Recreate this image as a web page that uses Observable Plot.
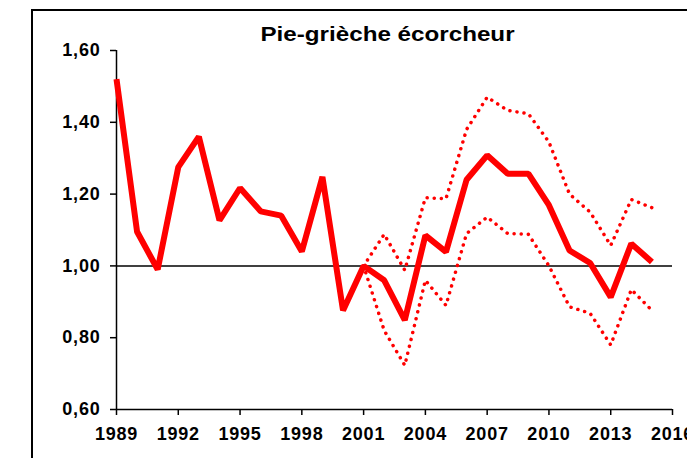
<!DOCTYPE html>
<html>
<head>
<meta charset="utf-8">
<script src="https://cdn.jsdelivr.net/npm/d3@7"></script>
<script src="https://cdn.jsdelivr.net/npm/@observablehq/plot@0.6"></script>
<style>
  html, body { margin: 0; padding: 0; background: #fff; width: 687px; height: 458px; overflow: hidden; }
  #wrap { position: relative; width: 687px; height: 458px; }
  #frame { position: absolute; left: 31px; top: 9px; width: 700px; height: 500px;
           border-left: 2px solid #000; border-top: 2px solid #000; box-sizing: border-box; }
  #title { position: absolute; left: 0; top: 24px; width: 775px; text-align: center;
           font-family: "Liberation Sans", Arial, sans-serif; font-weight: bold; font-size: 20.5px;
           line-height: 20px; color: #000; transform: scaleX(1.18); transform-origin: 387.5px 0; }
  #chart { position: absolute; left: 0; top: 0; }
</style>
</head>
<body>
<div id="wrap">
  <div id="frame"></div>
  <div id="chart"></div>
  <div id="title">Pie-grièche écorcheur</div>
</div>
<script>
// Main index, 1989–2015
const years = [1989,1990,1991,1992,1993,1994,1995,1996,1997,1998,1999,2000,2001,2002,2003,2004,2005,2006,2007,2008,2009,2010,2011,2012,2013,2014,2015];
const index = [1.52,1.095,0.99,1.275,1.36,1.127,1.217,1.152,1.14,1.04,1.248,0.876,1.0,0.96,0.849,1.085,1.039,1.24,1.308,1.257,1.257,1.169,1.043,1.008,0.913,1.062,1.011];

// Confidence interval, 2001–2015
const ciYears = [2001,2002,2003,2004,2005,2006,2007,2008,2009,2010,2011,2012,2013,2014,2015];
const upper = [1.0,1.088,0.988,1.19,1.187,1.38,1.47,1.433,1.424,1.345,1.20,1.15,1.057,1.185,1.162];
const lower = [1.0,0.82,0.723,0.96,0.89,1.09,1.136,1.09,1.088,1.0,0.886,0.868,0.78,0.934,0.876];

// Axis ticks
const xTicks = [1989,1992,1995,1998,2001,2004,2007,2010,2013,2016];
const yTicks = [0.6,0.8,1.0,1.2,1.4,1.6];

const main = years.map((y, i) => ({year: y, value: index[i]}));
const ci = ciYears.map((y, i) => ({year: y, upper: upper[i], lower: lower[i]}));

const chart = Plot.plot({
  width: 687,
  height: 458,
  marginLeft: 116,
  marginRight: 15,
  marginTop: 50,
  marginBottom: 49,
  style: {
    fontFamily: '"Liberation Sans", Arial, sans-serif',
    fontSize: "18px",
    fontWeight: "bold",
    letterSpacing: "0.8px",
    color: "#000",
    background: "transparent",
    overflow: "hidden"
  },
  x: {domain: [1989, 2016]},
  y: {domain: [0.6, 1.6]},
  marks: [
    Plot.ruleY([1.0], {x1: 1989, x2: 2016, stroke: "#000", strokeWidth: 1.5}),
    Plot.ruleX([1989], {y1: 0.6, y2: 1.6, stroke: "#000", strokeWidth: 1.5}),
    Plot.ruleY([0.6], {x1: 1989, x2: 2016, stroke: "#000", strokeWidth: 1.5}),
    Plot.axisX({ticks: xTicks, tickSize: 6, tickPadding: 12, strokeWidth: 1.5,
                tickFormat: d => String(d), label: null}),
    Plot.axisY({ticks: yTicks, tickSize: 6, tickPadding: 10, strokeWidth: 1.5,
                tickFormat: d => d.toFixed(2).replace(".", ","), label: null}),
    Plot.line(ci, {x: "year", y: "upper", stroke: "#ff0000", strokeWidth: 3.5,
                   strokeDasharray: "0.1 7", strokeLinecap: "round"}),
    Plot.line(ci, {x: "year", y: "lower", stroke: "#ff0000", strokeWidth: 3.5,
                   strokeDasharray: "0.1 7", strokeLinecap: "round"}),
    Plot.line(main, {x: "year", y: "value", stroke: "#ff0000", strokeWidth: 6,
                     strokeLinejoin: "miter", strokeLinecap: "butt"})
  ]
});
document.getElementById("chart").appendChild(chart);
</script>
</body>
</html>
